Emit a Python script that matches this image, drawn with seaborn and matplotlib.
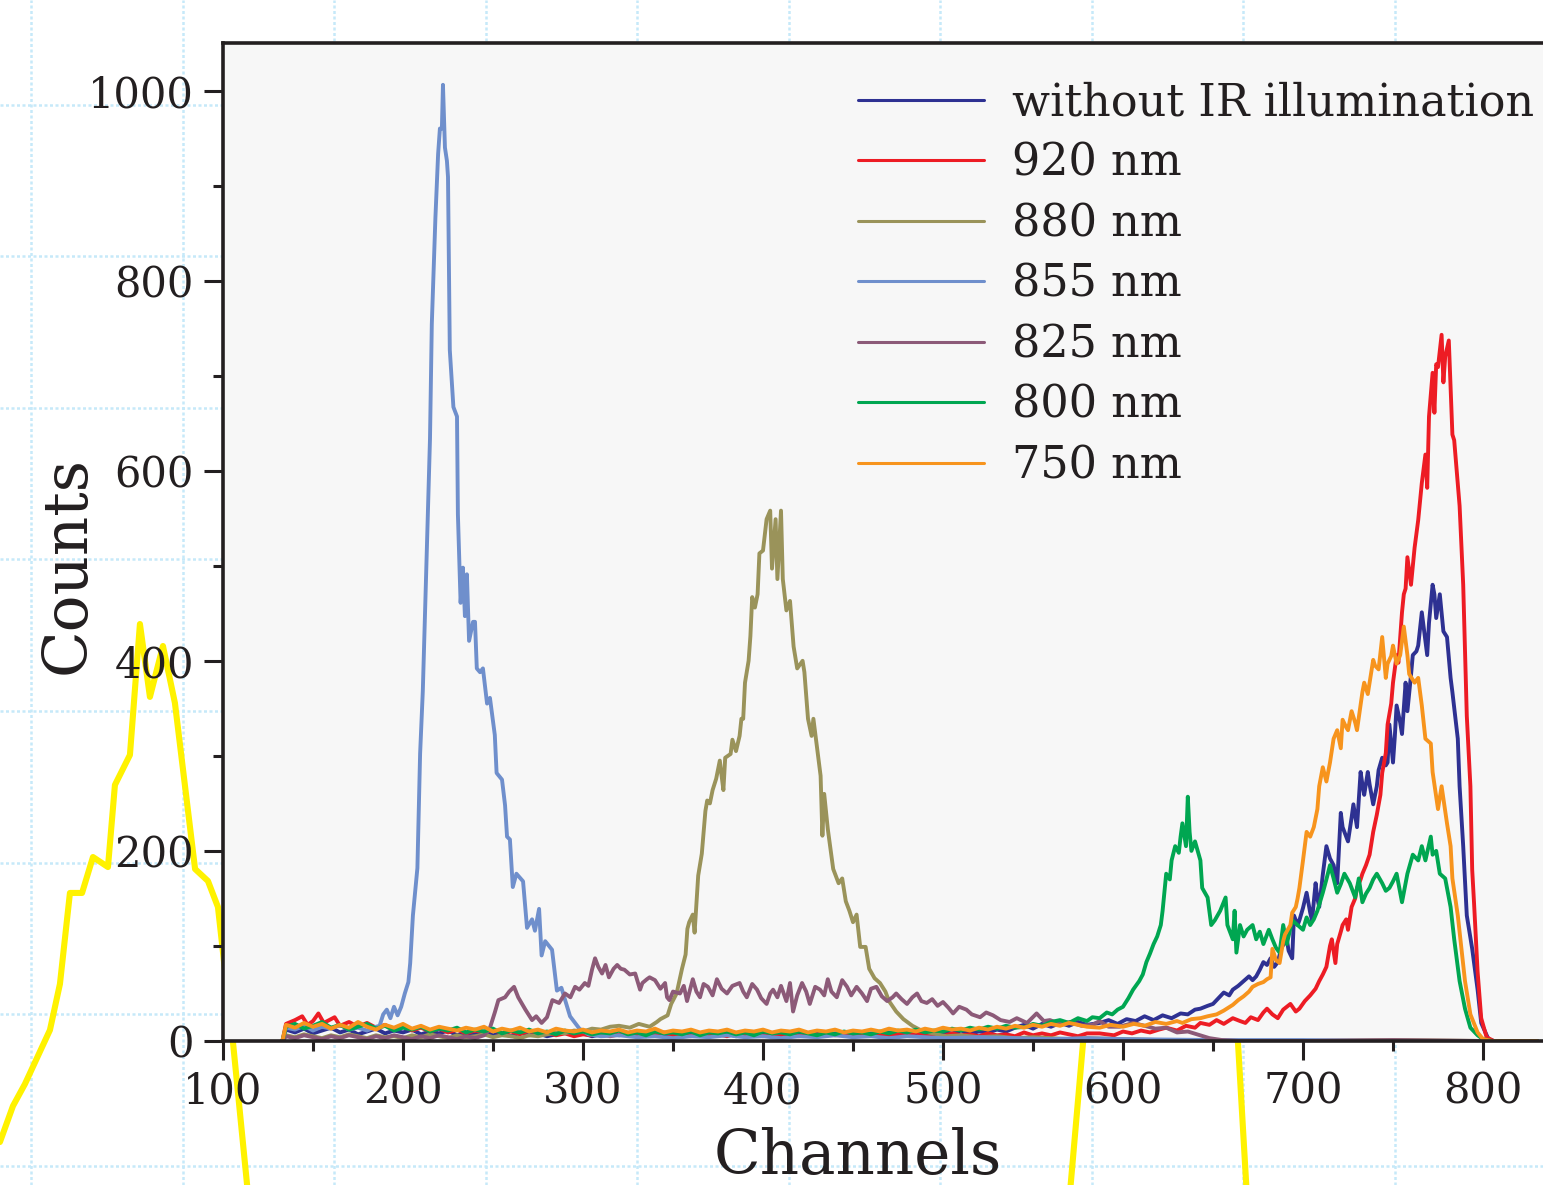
import numpy as np
import pandas as pd
import matplotlib
matplotlib.use("Agg")
import matplotlib.pyplot as plt
from matplotlib.ticker import MultipleLocator
import seaborn as sns

# ---- spectra: (channel, counts) ----
series_labels = ["without IR illumination", "920 nm", "880 nm", "855 nm",
                 "825 nm", "800 nm", "750 nm"]
series_colors = ["#2e3192", "#ed1c24", "#9a935a", "#6f8fcc",
                 "#8c5a78", "#00a651", "#f7941d"]

no_ir = [(133,0),(135,12),(140,9),(145,13),(150,8),(155,11),(160,14),(165,9),(170,12),(175,7),
         (180,10),(185,13),(190,8),(195,11),(200,9),(205,12),(210,7),(215,10),(220,8),(225,11),
         (230,6),(235,9),(240,7),(245,10),(250,6),(255,8),(260,5),(265,9),(270,6),(275,8),
         (280,5),(285,7),(290,9),(295,6),(300,8),(305,5),(310,7),(315,9),(320,6),(325,8),
         (330,5),(335,7),(340,9),(345,6),(350,8),(355,5),(360,7),(365,6),(370,9),(375,7),
         (380,8),(385,5),(390,7),(395,6),(400,9),(405,7),(410,10),(415,6),(420,8),(425,7),
         (430,9),(435,6),(440,8),(445,7),(450,10),(455,6),(460,8),(465,7),(470,9),(475,6),
         (480,8),(485,7),(490,10),(495,7),(500,9),(505,8),(510,11),(515,8),(520,10),(525,9),
         (530,12),(535,10),(540,14),(545,17),(550,13),(555,18),(560,15),(565,19),(570,16),
         (575,20),(580,17),(587,19),(592,22),(597,18),(602,23),(607,21),(612,26),(617,22),
         (622,27),(627,24),(632,29),(636,28),(640,33),(643,34),(647,37),(650,39),(653,45),
         (656,51),(659,48),(661,54),(664,58),(667,63),(670,68),(672,64),(674,68),(676,75),
         (678,83),(680,80),(682,87),(684,78),(686,83),(688,98),(690,104),(691,107),(692,95),
         (694,87),(695,132),(697,122),(698,127),(700,140),(702,156),(704,135),(705,127),
         (707,166),(708,150),(709,141),(711,175),(713,205),(715,192),(717,185),(719,166),
         (721,240),(722,225),(724,215),(725,210),(727,235),(728,249),(730,225),(732,283),
         (733,270),(734,259),(736,283),(737,270),(739,249),(741,268),(742,285),(744,298),
         (746,290),(747,293),(748,333),(750,293),(751,320),(752,353),(754,335),(755,323),
         (757,377),(758,347),(760,385),(761,406),(763,410),(764,416),(766,451),(768,421),
         (769,406),(770,440),(772,480),(773,470),(774,445),(776,470),(778,431),(780,425),
         (782,382),(783,367),(786,318),(787,268),(789,205),(791,132),(794,97),(797,54),
         (799,19),(803,2),(806,0),(815,0),(830,0)]

nm920 = [(133,0),(135,18),(140,22),(144,26),(147,17),(150,21),(153,29),(156,19),(159,22),(162,25),
         (165,16),(170,20),(175,15),(180,19),(185,14),(190,17),(195,12),(200,16),(205,11),
         (210,14),(215,10),(220,13),(225,9),(230,12),(235,8),(240,11),(245,9),(250,12),(255,8),
         (260,10),(265,7),(270,11),(275,8),(280,9),(285,6),(290,8),(295,5),(300,7),(305,6),
         (310,8),(315,5),(320,7),(325,6),(330,8),(335,5),(340,7),(345,9),(350,6),(355,7),
         (360,5),(365,8),(370,6),(375,7),(380,5),(385,8),(390,6),(395,7),(400,5),(405,8),
         (410,6),(415,7),(420,5),(425,8),(430,6),(435,9),(440,6),(445,7),(450,5),(455,8),
         (460,6),(465,7),(470,5),(475,8),(480,6),(485,9),(490,6),(495,7),(500,5),(505,8),
         (510,6),(515,7),(520,5),(525,8),(530,6),(535,7),(540,5),(545,9),(550,6),(555,8),
         (560,6),(565,9),(570,7),(575,5),(580,8),(587,8),(595,6),(600,10),(605,8),(610,11),
         (615,9),(620,12),(624,14),(630,11),(635,16),(640,14),(643,19),(648,17),(652,22),
         (656,18),(661,24),(665,21),(668,19),(671,25),(675,22),(678,30),(680,34),(683,28),
         (686,24),(689,33),(693,39),(696,31),(698,34),(701,42),(704,48),(707,55),(709,63),
         (711,70),(713,78),(715,100),(716,107),(718,82),(719,102),(721,115),(722,122),
         (724,128),(725,117),(727,141),(729,150),(730,161),(732,170),(733,176),(735,185),
         (737,196),(739,220),(741,238),(743,259),(744,282),(746,303),(747,333),(749,355),
         (750,377),(752,406),(753,398),(755,451),(756,470),(757,476),(758,509),(760,480),
         (761,500),(762,519),(764,548),(766,587),(768,617),(769,582),(770,657),(772,703),
         (773,661),(774,712),(775,709),(777,743),(778,693),(779,720),(781,737),(783,638),
         (784,632),(787,563),(789,480),(791,342),(793,268),(794,180),(795,146),(797,73),
         (799,24),(802,4),(806,0),(815,0),(830,0)]

nm880 = [(133,0),(135,6),(140,4),(145,7),(150,5),(155,3),(160,6),(165,4),(170,7),(175,5),
         (180,3),(185,6),(190,4),(195,5),(200,3),(205,6),(210,4),(215,7),(220,5),(225,3),
         (230,6),(235,4),(240,5),(245,7),(250,4),(255,6),(260,5),(265,3),(270,6),(275,5),
         (280,7),(285,9),(290,8),(295,11),(300,10),(305,13),(310,12),(315,15),(320,16),
         (326,14),(331,18),(337,15),(341,20),(343,23),(347,27),(349,39),(352,50),(355,76),
         (357,91),(358,118),(359,125),(361,133),(362,114),(364,174),(366,197),(368,242),
         (369,253),(370.5,250),(372,264),(374,276),(376,295),(377,279),(378,264),(379,298),
         (382,302),(383,317),(385,305),(387,321),(388,339),(389,339),(390,377),(392,400),
         (393,426),(394,467),(395.5,456),(397,470),(398,513),(400,516),(402,549),(404,558),
         (405,497),(407,549),(408,486),(410,558),(411,486),(413,453),(415,463),(417,415),
         (419,392),(422,400),(423,388),(425,339),(427,321),(428,339),(430,309),(432,279),
         (433,216),(434,260),(436,223),(439,181),(442,166),(444,171),(446,147),(448,137),
         (450,125),(452,133),(454,99),(457,99),(459,76),(462,66),(465,61),(468,52),(470,42),
         (474,31),(478,23),(483,16),(487,12),(492,9),(497,7),(502,5),(510,6),(520,4),(530,5),
         (540,3),(550,4),(560,3),(570,2),(580,3),(600,2),(620,1),(650,0),(700,0),(750,1),
         (800,0),(830,0)]

nm855 = [(133,0),(135,14),(140,12),(145,16),(150,11),(155,15),(160,13),(165,17),(170,12),
         (175,14),(180,11),(185,15),(187,16),(189,28),(191,33),(193,24),(195,36),(197,27),
         (199,36),(201,50),(203,62),(204,82),(205.5,132),(208,182),(209.5,302),(211,368),
         (213,501),(215,634),(216,754),(218,866),(219.5,933),(220.5,960),(221.6,960),
         (222.2,1006),(223.3,940),(224.4,926),(225,909),(226,727),(228,667),(230,657),
         (230.5,554),(232,461),(233.3,498),(234.4,447),(235.5,491),(236.7,421),(238.9,441),
         (240,441),(241,392),(242.8,388),(244.4,392),(246.7,355),(248.3,361),(251,322),
         (252,282),(255,275),(256.7,248),(257.8,215),(259.4,212),(261,162),(263,176),
         (266.7,168),(268.9,119),(271.7,128),(273.3,116),(275.6,139),(277,90),(279,105),
         (282.8,96),(285.5,53),(288,56),(292.8,26),(298,13),(303,7),(310,5),(320,6),(330,4),
         (340,5),(350,3),(360,5),(370,4),(380,6),(390,4),(400,5),(410,3),(420,5),(430,4),
         (440,6),(450,4),(460,5),(470,3),(480,5),(490,4),(500,3),(520,4),(540,3),(560,2),
         (580,3),(600,2),(650,1),(700,1),(750,0),(830,0)]

nm825 = [(133,0),(135,5),(140,3),(145,6),(150,4),(155,2),(160,5),(165,3),(170,6),(175,4),
         (180,2),(185,5),(190,3),(195,6),(200,4),(205,2),(210,5),(215,3),(220,6),(225,4),
         (230,2),(235,5),(240,3),(245,6),(248,12),(251,30),(253,43),(256.7,46),(259,52),
         (261.7,57),(264,46),(268,33),(271.7,22),(274,26),(277,19),(280,25),(283,43),
         (286.7,40),(290,50),(293,46),(295.6,57),(298,54),(301,61),(303,58),(305,75),
         (306.7,87),(308.5,78),(310.6,71),(312.5,80),(314.4,67),(317,76),(319,80),(321,76),
         (323,75),(326,70),(329,71),(331.7,54),(333,61),(335.5,65),(337,67),(340,64),(341,61),
         (343,55),(345.6,61),(346.7,46),(348,43),(350,52),(353.9,50),(356,58),(357.8,42),
         (361,65),(363,52),(365,46),(367,60),(369.4,57),(372,48),(374.4,65),(377,55),(380,50),
         (383,58),(387,61),(389,52),(391,46),(394,60),(396.7,54),(399,45),(402,39),(404,50),
         (405.6,54),(408,46),(410,58),(413,42),(415,61),(416.7,31),(419,48),(421.7,61),
         (424,52),(426,39),(429,57),(431.7,54),(434,48),(436,65),(438,52),(441,46),(444,64),
         (446.7,57),(449,48),(452,57),(455,50),(457.8,42),(460,55),(463,57),(466,47),(469,42),
         (472,46),(474,50),(477,44),(480,39),(483,46),(485.6,50),(488,42),(491,40),(494,44),
         (497,37),(500,41),(503,35),(505.6,29),(509,36),(513,33),(516,28),(520.6,25),(524,30),
         (527.8,27),(532,22),(537,20),(541,24),(546.7,19),(552,29),(556,21),(559.4,22),
         (565,18),(570.6,20),(577,16),(583,17),(587,21),(592,15),(598,15),(605.6,19),(612,16),
         (618,13),(624,14),(630,9),(636,10),(642.8,6),(648,3),(655,1),(665,0),(700,0),
         (750,1),(800,0),(830,0)]

nm800 = [(133,0),(135,15),(140,18),(145,13),(150,16),(155,20),(160,14),(165,17),(170,12),
         (175,15),(180,18),(185,13),(190,16),(195,11),(200,14),(205,12),(210,15),(215,10),
         (220,13),(225,11),(230,14),(235,9),(240,12),(245,10),(250,13),(255,8),(260,11),
         (265,9),(270,12),(275,8),(280,10),(285,7),(290,11),(295,8),(300,10),(305,7),(310,9),
         (315,8),(320,11),(325,7),(330,9),(335,6),(340,10),(345,8),(350,9),(355,7),(360,10),
         (365,6),(370,9),(375,8),(380,10),(385,7),(390,9),(395,6),(400,10),(405,8),(410,9),
         (415,7),(420,10),(425,8),(430,6),(435,9),(440,7),(445,10),(450,8),(455,9),(460,7),
         (465,10),(470,8),(475,11),(480,9),(485,12),(490,9),(495,11),(500,10),(505,13),
         (510,11),(515,14),(520,12),(525,15),(530,13),(535,16),(540,14),(546.7,15),(550,18),
         (555,16),(560,20),(565,22),(570,19),(575,24),(580,21),(583,25),(587,24),(591,30),
         (594,28),(597,33),(600,36),(603,45),(605.6,54),(609,63),(611,70),(613,83),(615,92),
         (617,102),(619,110),(621,122),(622,137),(624,176),(626,170),(627,190),(629,205),
         (631,198),(632,215),(633,229),(635,205),(636,257),(637,220),(638,200),(640,210),
         (643,190),(644,161),(647,151),(649,122),(651,127),(654,137),(657,151),(658,122),
         (661,107),(662,137),(663,93),(665,122),(667,110),(669,117),(672,122),(674,107),
         (676,115),(678,102),(681,117),(683,107),(685,98),(687,93),(689,122),(691,102),
         (694,127),(697,122),(700,117),(702,130),(704,122),(706,128),(708,137),(711,156),
         (713,170),(715,185),(717,171),(719,156),(721,165),(723,176),(726,166),(729,151),
         (731,171),(733,146),(735,155),(737,161),(739,170),(741,176),(744,166),(746,158),
         (748,161),(750,168),(752,176),(755,146),(758,176),(761,196),(764,190),(766,205),
         (768,190),(771,215),(772,196),(774,200),(776,176),(779,171),(782,141),(784,107),
         (787,63),(790,34),(793,14),(797,6),(800,2),(805,0),(830,0)]

nm750 = [(133,0),(135,17),(140,14),(145,19),(150,15),(155,18),(160,13),(165,17),(170,14),
         (175,20),(180,15),(185,12),(190,17),(195,14),(200,18),(205,13),(210,16),(215,12),
         (220,15),(225,13),(230,11),(235,14),(240,12),(245,15),(250,10),(255,13),(260,11),
         (265,14),(270,10),(275,12),(280,9),(285,13),(290,11),(295,10),(300,12),(305,9),
         (310,11),(315,10),(320,12),(325,9),(330,11),(335,10),(340,13),(345,9),(350,11),
         (355,10),(360,12),(365,9),(370,11),(375,10),(380,12),(385,9),(390,11),(395,10),
         (400,12),(405,9),(410,11),(415,10),(420,12),(425,9),(430,11),(435,10),(440,12),
         (445,9),(450,11),(455,10),(460,12),(465,10),(470,13),(475,11),(480,12),(485,10),
         (490,13),(495,11),(500,14),(505,12),(510,13),(515,11),(520,14),(525,12),(530,15),
         (535,13),(540,16),(545,14),(550,17),(555,15),(560,18),(565,16),(570,19),(575,17),
         (580,15),(587,14),(593,17),(600,15),(606,18),(612,16),(618,20),(624,18),(630,21),
         (633,19),(638,23),(643,24),(647,26),(652,28),(656,32),(661,38),(664,43),(667,47),
         (670,52),(672,57),(675,60),(678,62),(680,65),(682,67),(683,97),(685,85),(687,82),
         (689,105),(690,112),(693,122),(694,135),(696,141),(697,150),(698,161),(700,190),
         (702,220),(704,215),(706,225),(708,244),(709,268),(711,288),(713,273),(715,293),
         (717,318),(719,327),(721,308),(722,338),(724,330),(725,327),(727,347),(729,335),
         (730,327),(733,367),(734,377),(736,365),(737,377),(739,401),(740,395),(742,391),
         (744,425),(746,382),(747,397),(749,405),(750,416),(752,397),(754,406),(756,436),
         (758,406),(759,386),(761,380),(762,377),(764,382),(766,353),(768,318),(771,313),
         (772,283),(775,244),(777,268),(780,229),(782,205),(783,171),(786,132),(788,97),
         (790,63),(793,28),(797,9),(800,2),(805,0),(830,0)]

all_series = [no_ir, nm920, nm880, nm855, nm825, nm800, nm750]

# yellow trace on the squared backdrop, in grid-cell units
backdrop_trace = [(-0.205,0.155),(-0.119,0.393),(-0.040,0.538),(0.125,0.894),(0.191,1.198),
                  (0.257,1.799),(0.337,1.799),(0.409,2.036),(0.508,1.970),(0.554,2.512),
                  (0.653,2.710),(0.719,3.574),(0.785,3.093),(0.871,3.429),(0.950,3.053),
                  (1.083,1.957),(1.168,1.878),(1.234,1.706),(1.333,0.815),(1.446,-0.327),
                  (4.400,-1.550),(6.845,-0.327),(6.944,0.809),(7.386,3.073),(7.967,0.809),
                  (8.033,-0.327)]

x_ticks = [100, 200, 300, 400, 500, 600, 700, 800]
y_ticks = [0, 200, 400, 600, 800, 1000]

df = pd.concat(
    [pd.DataFrame(pts, columns=["channel", "counts"]).assign(series=lab)
     for pts, lab in zip(all_series, series_labels)],
    ignore_index=True)
trace_df = pd.DataFrame(backdrop_trace, columns=["u", "v"])

sns.set_style("white")
plt.rcParams["font.family"] = ["DejaVu Serif"]
ink = "#231f20"

W, H = 1543, 1185
fig = plt.figure(figsize=(W / 100, H / 100), dpi=100)

# squared paper behind the plot
cell = 151.5
bg = fig.add_axes([0, 0, 1, 1], zorder=0)
bg.set_xlim(-31 / cell, (W - 31) / cell)
bg.set_ylim(-(H - 1165.5) / cell, 1165.5 / cell)
bg.set_xticks(range(0, 10))
bg.set_yticks(range(0, 8))
bg.grid(True, color="#c6e9f9", linestyle=(0, (1.2, 1.0)), linewidth=1.8)
bg.set_axisbelow(True)
bg.tick_params(length=0, labelbottom=False, labelleft=False)
for s in bg.spines.values():
    s.set_visible(False)
sns.lineplot(data=trace_df, x="u", y="v", sort=False, estimator=None,
             color="#fff200", linewidth=4.4, ax=bg)
bg.set_xlabel("")
bg.set_ylabel("")

# main spectrum axes (right edge runs past the figure)
ax = fig.add_axes([223 / W, (H - 1041) / H, 1350 / W, 998 / H], zorder=1)
ax.set_facecolor("#f7f7f7")
sns.lineplot(data=df, x="channel", y="counts", hue="series",
             hue_order=series_labels, palette=dict(zip(series_labels, series_colors)),
             estimator=None, sort=False, linewidth=2.8, ax=ax)

ax.set_xlim(100, 850)
ax.set_ylim(0, 1050)
ax.set_xticks(x_ticks)
ax.set_yticks(y_ticks)
ax.xaxis.set_minor_locator(MultipleLocator(50))
ax.yaxis.set_minor_locator(MultipleLocator(100))
ax.tick_params(which="major", direction="out", length=14, width=2.2, pad=7,
               labelsize=30, color=ink, labelcolor=ink)
ax.tick_params(which="minor", direction="out", length=7.5, width=2.2, color=ink)
ax.tick_params(bottom=True, left=True, which="both")
for side in ["left", "top", "bottom"]:
    ax.spines[side].set_linewidth(2.6)
    ax.spines[side].set_color(ink)
ax.spines["right"].set_visible(False)

ax.set_xlabel("Channels", fontsize=44, color=ink)
ax.set_ylabel("Counts", fontsize=44, color=ink)
ax.xaxis.set_label_coords(0.470, -0.086)
ax.yaxis.set_label_coords(-0.093, 0.477)

handles, labels = ax.get_legend_handles_labels()
leg = ax.legend(handles, labels, loc="upper left", bbox_to_anchor=(0.470, 0.962),
                frameon=False, fontsize=32, handlelength=2.85, handletextpad=0.62,
                labelspacing=0.39, borderaxespad=0, borderpad=0)
for ln in leg.get_lines():
    ln.set_linewidth(2.2)
for t in leg.get_texts():
    t.set_color(ink)

fig.savefig("out.png", dpi=100)
